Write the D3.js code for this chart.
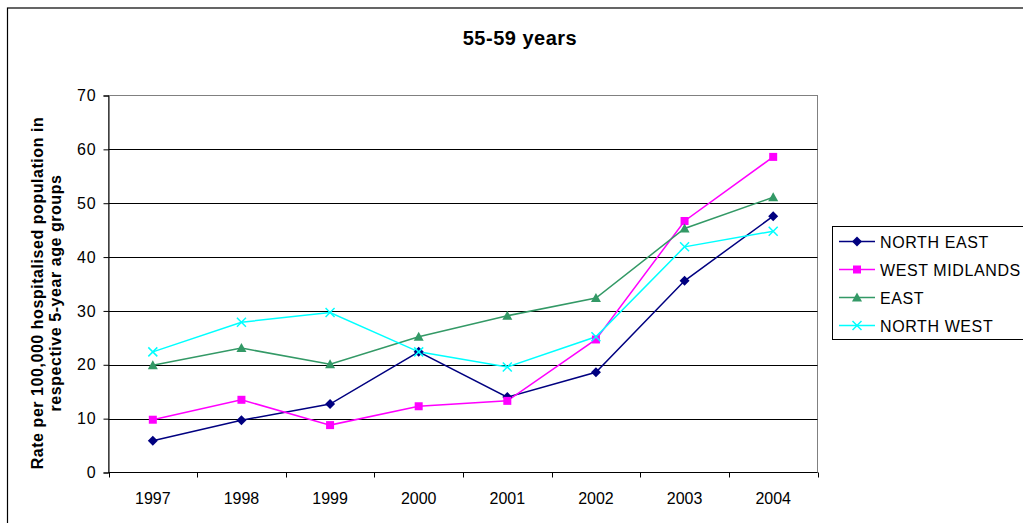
<!DOCTYPE html>
<html>
<head>
<meta charset="utf-8">
<script src="https://cdn.jsdelivr.net/npm/d3@7"></script>
<style>
  html, body { margin: 0; padding: 0; background: #fff; }
  svg { display: block; }
  text { font-family: Arial, "Liberation Sans", sans-serif; }
</style>
</head>
<body>
<svg id="chart" width="1023" height="523"></svg>
<script>
// Hospitalisation rates, 55-59 years, by region
const years = ["1997", "1998", "1999", "2000", "2001", "2002", "2003", "2004"];
const northEast    = [5.9, 9.7, 12.7, 22.4, 14.0, 18.6, 35.6, 47.6];
const westMidlands = [9.8, 13.5, 8.8, 12.3, 13.3, 24.7, 46.7, 58.6];
const east         = [19.9, 23.1, 20.1, 25.2, 29.1, 32.4, 45.3, 51.1];
const northWest    = [22.4, 27.9, 29.7, 22.4, 19.6, 25.2, 41.9, 44.8];
const yTicks = [0, 10, 20, 30, 40, 50, 60, 70];

const series = [
  { name: "NORTH EAST",    values: northEast,    color: "#000080", marker: "diamond" },
  { name: "WEST MIDLANDS", values: westMidlands, color: "#FF00FF", marker: "square" },
  { name: "EAST",          values: east,         color: "#339966", marker: "triangle" },
  { name: "NORTH WEST",    values: northWest,    color: "#00FFFF", marker: "cross" }
];

const svg = d3.select("#chart");
const plot = { left: 108.5, right: 817.5, top: 95.5, bottom: 472.5 };

// Outer chart frame
svg.append("rect")
  .attr("x", 7.5).attr("y", 8)
  .attr("width", 1030).attr("height", 540)
  .attr("fill", "#fff").attr("stroke", "#000").attr("stroke-width", 1.2);

const x = d3.scaleBand().domain(years).range([plot.left, plot.right]).padding(0);
const y = d3.scaleLinear().domain([0, 70]).range([plot.bottom, plot.top]);

// Plot area frame
svg.append("rect")
  .attr("x", plot.left).attr("y", plot.top)
  .attr("width", plot.right - plot.left).attr("height", plot.bottom - plot.top)
  .attr("fill", "#fff").attr("stroke", "#808080").attr("stroke-width", 1);

// Horizontal gridlines
svg.append("g").selectAll("line")
  .data(yTicks.filter(d => d > 0 && d < 70))
  .join("line")
  .attr("x1", plot.left).attr("x2", plot.right)
  .attr("y1", d => Math.round(y(d)) + 0.5).attr("y2", d => Math.round(y(d)) + 0.5)
  .attr("stroke", "#000").attr("stroke-width", 1);

// Y axis
const yAxis = svg.append("g")
  .attr("transform", `translate(${plot.left},0)`)
  .call(d3.axisLeft(y).tickValues(yTicks).tickSize(5).tickPadding(7));
yAxis.select(".domain").attr("stroke", "#000");
yAxis.selectAll(".tick line").attr("stroke", "#000");
yAxis.selectAll("text").attr("font-size", 16).attr("fill", "#000")
  .attr("letter-spacing", 0.8)
  .attr("font-family", "Arial, 'Liberation Sans', sans-serif");

// X axis: ticks at category boundaries, labels centred in each band
const boundaries = years.map(d => x(d)).concat([plot.right]);
const xAxisG = svg.append("g");
xAxisG.append("line")
  .attr("x1", plot.left).attr("x2", plot.right)
  .attr("y1", plot.bottom).attr("y2", plot.bottom)
  .attr("stroke", "#000");
xAxisG.selectAll("line.tk").data(boundaries).join("line")
  .attr("class", "tk")
  .attr("x1", d => Math.round(d) + 0.5).attr("x2", d => Math.round(d) + 0.5)
  .attr("y1", plot.bottom).attr("y2", plot.bottom + 5)
  .attr("stroke", "#000");
xAxisG.selectAll("text").data(years).join("text")
  .attr("x", d => x(d) + x.bandwidth() / 2)
  .attr("y", 503.5)
  .attr("text-anchor", "middle")
  .attr("font-size", 16)
  .text(d => d);

// Title
svg.append("text")
  .attr("x", 520).attr("y", 45)
  .attr("text-anchor", "middle")
  .attr("font-size", 20).attr("font-weight", "bold")
  .attr("letter-spacing", 0.5)
  .text("55-59 years");

// Y axis title (two lines)
const yTitle = svg.append("text")
  .attr("transform", "translate(42.5,293) rotate(-90)")
  .attr("text-anchor", "middle")
  .attr("font-size", 16).attr("font-weight", "bold")
  .attr("letter-spacing", 0.55);
yTitle.append("tspan").attr("x", 0).attr("dy", 0).text("Rate per 100,000 hospitalised population in");
yTitle.append("tspan").attr("x", 0).attr("dy", 18.5).text("respective 5-year age groups");

// Marker drawing
function drawMarker(g, type, color) {
  if (type === "diamond") {
    g.append("path").attr("d", "M0,-5L5,0L0,5L-5,0Z").attr("fill", color);
  } else if (type === "square") {
    g.append("rect").attr("x", -4).attr("y", -4).attr("width", 8).attr("height", 8).attr("fill", color);
  } else if (type === "triangle") {
    g.append("path").attr("d", "M0,-5L5,4L-5,4Z").attr("fill", color);
  } else {
    g.append("path").attr("d", "M-4.5,-4.5L4.5,4.5M-4.5,4.5L4.5,-4.5")
      .attr("stroke", color).attr("stroke-width", 1.5).attr("fill", "none");
  }
}

const line = d3.line()
  .x((d, i) => x(years[i]) + x.bandwidth() / 2)
  .y(d => y(d));

series.forEach(s => {
  svg.append("path")
    .datum(s.values)
    .attr("d", line)
    .attr("fill", "none")
    .attr("stroke", s.color)
    .attr("stroke-width", 1.5);
});
series.forEach(s => {
  s.values.forEach((v, i) => {
    const g = svg.append("g")
      .attr("transform", `translate(${x(years[i]) + x.bandwidth() / 2},${y(v)})`);
    drawMarker(g, s.marker, s.color);
  });
});

// Legend
const legend = svg.append("g");
legend.append("rect")
  .attr("x", 832.5).attr("y", 226.5)
  .attr("width", 200).attr("height", 113)
  .attr("fill", "#fff").attr("stroke", "#000");
series.forEach((s, i) => {
  const cy = 241.5 + i * 28;
  legend.append("line")
    .attr("x1", 839).attr("x2", 875).attr("y1", cy).attr("y2", cy)
    .attr("stroke", s.color).attr("stroke-width", 1.5);
  drawMarker(legend.append("g").attr("transform", `translate(857,${cy})`), s.marker, s.color);
  legend.append("text")
    .attr("x", 880).attr("y", cy + 6)
    .attr("font-size", 16)
    .attr("letter-spacing", 0.6)
    .text(s.name);
});
</script>
</body>
</html>
